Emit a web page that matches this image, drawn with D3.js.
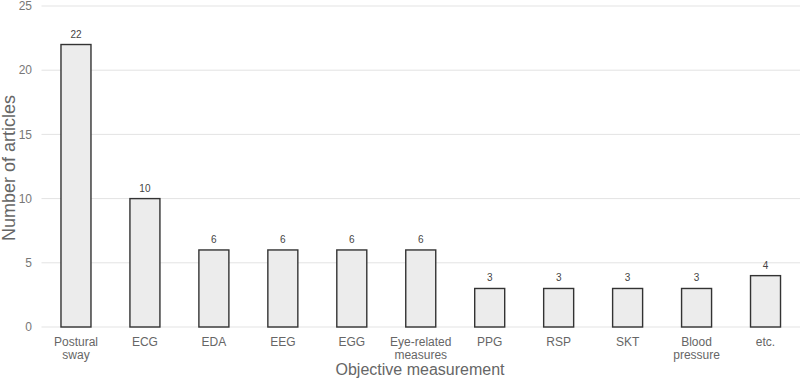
<!DOCTYPE html>
<html>
<head>
<meta charset="utf-8">
<script src="https://cdn.jsdelivr.net/npm/d3@7"></script>
<style>
  body { margin: 0; background: #fff; }
  text { font-family: "Liberation Sans", Arial, sans-serif; }
</style>
</head>
<body>
<svg id="chart" width="800" height="383"></svg>
<script>
const categories = [
    ['Postural', 'sway'], ['ECG'], ['EDA'], ['EEG'], ['EGG'],
    ['Eye-related', 'measures'], ['PPG'], ['RSP'], ['SKT'],
    ['Blood', 'pressure'], ['etc.']
];
const articleCounts = [22, 10, 6, 6, 6, 6, 3, 3, 3, 3, 4];
const yTicks = [0, 5, 10, 15, 20, 25];

const svg = d3.select('#chart');
const plotLeft = 41.5;
const plotRight = 800;
const plotTop = 6;
const plotBottom = 327;

const x = d3.scaleBand()
    .domain(d3.range(categories.length))
    .range([plotLeft, plotRight])
    .paddingInner(0.565)
    .paddingOuter(0.2825);

const y = d3.scaleLinear()
    .domain([0, 25])
    .range([plotBottom, plotTop]);

// grid lines
svg.append('g')
    .selectAll('line')
    .data(yTicks)
    .enter()
    .append('line')
    .attr('x1', plotLeft)
    .attr('x2', plotRight)
    .attr('y1', (d) => y(d))
    .attr('y2', (d) => y(d))
    .attr('stroke', '#e3e3e3')
    .attr('stroke-width', 1);

// y tick labels
svg.append('g')
    .selectAll('text')
    .data(yTicks)
    .enter()
    .append('text')
    .attr('x', 32)
    .attr('y', (d) => y(d))
    .attr('dy', '0.35em')
    .attr('text-anchor', 'end')
    .attr('font-size', 12)
    .attr('fill', '#777')
    .text((d) => d);

// bars
svg.append('g')
    .selectAll('rect')
    .data(articleCounts)
    .enter()
    .append('rect')
    .attr('x', (d, i) => x(i))
    .attr('y', (d) => y(d))
    .attr('width', x.bandwidth())
    .attr('height', (d) => y(0) - y(d))
    .attr('fill', '#ececec')
    .attr('stroke', '#333')
    .attr('stroke-width', 1.4);

// value labels
svg.append('g')
    .selectAll('text')
    .data(articleCounts)
    .enter()
    .append('text')
    .attr('x', (d, i) => x(i) + x.bandwidth() / 2)
    .attr('y', (d) => y(d) - 7)
    .attr('text-anchor', 'middle')
    .attr('font-size', 10)
    .attr('fill', '#444')
    .text((d) => d);

// category labels, some on two lines
const catLabel = svg.append('g')
    .selectAll('text')
    .data(categories)
    .enter()
    .append('text')
    .attr('x', (d, i) => x(i) + x.bandwidth() / 2)
    .attr('y', 346)
    .attr('text-anchor', 'middle')
    .attr('font-size', 12)
    .attr('fill', '#666');

catLabel.selectAll('tspan')
    .data((d) => d)
    .enter()
    .append('tspan')
    .attr('x', function () { return d3.select(this.parentNode).attr('x'); })
    .attr('dy', (d, i) => (i === 0 ? 0 : 13))
    .text((d) => d);

// axis titles
svg.append('text')
    .attr('transform', 'translate(15, 168) rotate(-90)')
    .attr('text-anchor', 'middle')
    .attr('font-size', 18)
    .attr('fill', '#666')
    .text('Number of articles');

svg.append('text')
    .attr('x', 420)
    .attr('y', 375)
    .attr('text-anchor', 'middle')
    .attr('font-size', 16)
    .attr('fill', '#666')
    .text('Objective measurement');
</script>
</body>
</html>
